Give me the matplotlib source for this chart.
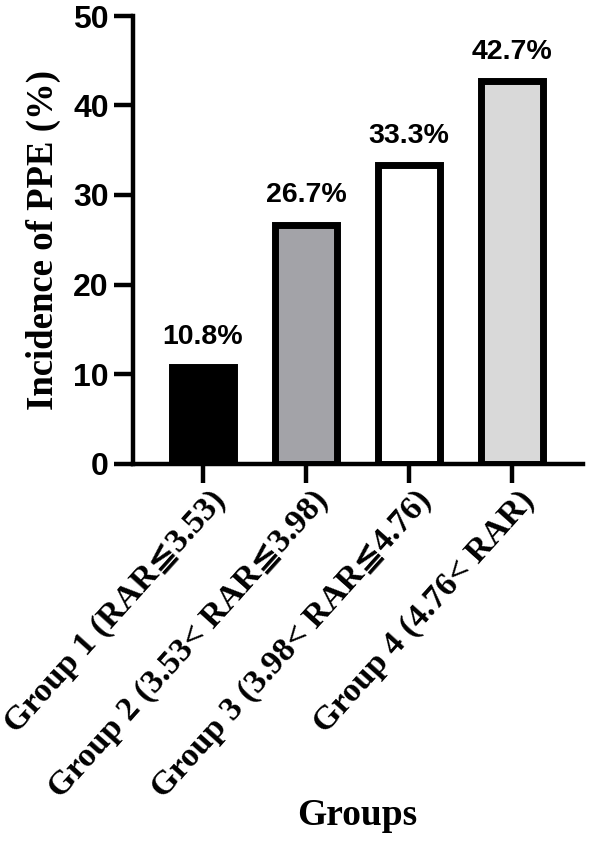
import matplotlib
matplotlib.use("Agg")
import matplotlib.pyplot as plt
from matplotlib.transforms import ScaledTranslation

categories = ["Group 1 (RAR≦3.53)", "Group 2 (3.53< RAR≦3.98)",
              "Group 3 (3.98< RAR≦4.76)", "Group 4 (4.76< RAR)"]
incidence = [10.8, 26.7, 33.3, 42.7]
bar_labels = ["10.8%", "26.7%", "33.3%", "42.7%"]
yticks = [0, 10, 20, 30, 40, 50]
bar_colors = ["#000000", "#a3a3a8", "#ffffff", "#d9d9d9"]

serif = ["Liberation Serif", "DejaVu Sans", "Noto Sans CJK SC"]
sans = ["Liberation Sans", "DejaVu Sans"]

fig = plt.figure(figsize=(5.9, 8.41), dpi=100)
W, H = 590, 841
ax = fig.add_axes([133 / W, 1 - 463.5 / H, (583 - 133) / W, 447.5 / H])

x = list(range(len(categories)))
bars = ax.bar(x, incidence, width=0.6, color=bar_colors, edgecolor="black",
              linewidth=5, joinstyle="miter", zorder=2)

for xi, v, lab in zip(x, incidence, bar_labels):
    ax.annotate(lab, (xi, v), xytext=(0, 12), textcoords="offset points",
                ha="center", va="bottom", fontsize=20.5, fontweight="bold",
                family=sans)

ax.set_xlim(-0.68, 3.69)
ax.set_ylim(0, 50)
ax.set_yticks(yticks)
ax.set_yticklabels([str(t) for t in yticks], fontsize=23, fontweight="bold",
                   family=sans)

for s in ["top", "right"]:
    ax.spines[s].set_visible(False)
for s in ["left", "bottom"]:
    ax.spines[s].set_linewidth(3.2)
    ax.spines[s].set_capstyle("projecting")

ax.tick_params(axis="y", length=13.5, width=3.2, pad=4)
ax.tick_params(axis="x", length=14, width=3.2, pad=9)

ax.set_xticks(x)
ax.set_xticklabels(categories, rotation=48, ha="right", va="center",
                   rotation_mode="anchor", fontsize=24.5, fontweight="bold",
                   family=serif)
offset = ScaledTranslation(17 / 100, 0, fig.dpi_scale_trans)
for lbl in ax.get_xticklabels():
    lbl.set_transform(lbl.get_transform() + offset)

ax.set_ylabel("Incidence of PPE (%)", fontsize=26.5, fontweight="bold",
              family=serif)
ax.yaxis.set_label_coords(-0.16, 0.5)

fig.text(357 / W, 1 - 825 / H, "Groups", ha="center", va="baseline",
         fontsize=27, fontweight="bold", family=serif)

fig.savefig("out.png", dpi=100)
